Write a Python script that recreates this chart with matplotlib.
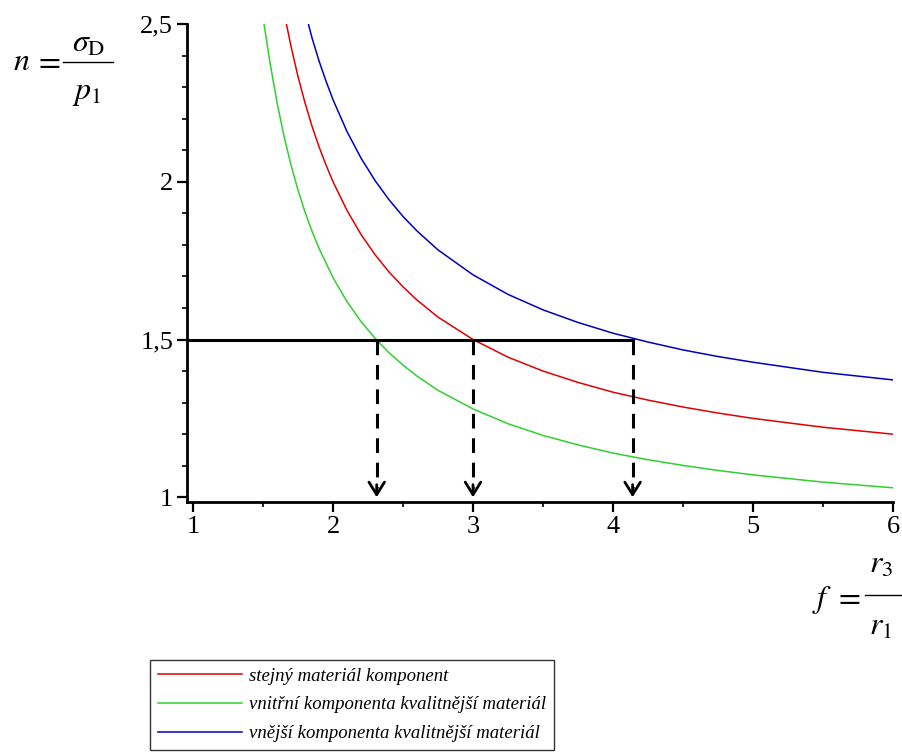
import matplotlib
matplotlib.use('Agg')
import matplotlib.pyplot as plt
from matplotlib.lines import Line2D
from matplotlib.ticker import MultipleLocator
from matplotlib.font_manager import FontProperties

# values
green_f = [1.507, 1.55, 1.60, 1.65, 1.70, 1.75, 1.80, 1.85, 1.90, 2.0, 2.1, 2.2,
           2.3, 2.4, 2.5, 2.6, 2.75, 3.0, 3.25, 3.5, 3.75, 4.0, 4.25, 4.5,
           4.75, 5.0, 5.5, 6.0]
green_n = [2.50, 2.377, 2.251, 2.144, 2.053, 1.973, 1.904, 1.843, 1.789, 1.696,
           1.620, 1.557, 1.504, 1.458, 1.419, 1.384, 1.339, 1.280, 1.233, 1.196,
           1.166, 1.140, 1.119, 1.101, 1.085, 1.071, 1.048, 1.030]

red_f = [1.667, 1.70, 1.75, 1.80, 1.85, 1.90, 1.95, 2.0, 2.1, 2.2, 2.3, 2.4,
         2.5, 2.6, 2.75, 3.0, 3.25, 3.5, 3.75, 4.0, 4.25, 4.5, 4.75, 5.0,
         5.5, 6.0]
red_n = [2.50, 2.429, 2.333, 2.25, 2.176, 2.111, 2.053, 2.0, 1.909, 1.833,
         1.769, 1.714, 1.667, 1.625, 1.571, 1.50, 1.444, 1.40, 1.364, 1.333,
         1.308, 1.286, 1.267, 1.25, 1.222, 1.20]

blue_f = [1.824, 1.85, 1.90, 1.95, 2.0, 2.1, 2.2, 2.3, 2.4, 2.5, 2.6, 2.75,
          3.0, 3.25, 3.5, 3.75, 4.0, 4.25, 4.5, 4.75, 5.0, 5.5, 6.0]
blue_n = [2.50, 2.456, 2.383, 2.319, 2.26, 2.159, 2.075, 2.004, 1.943, 1.890,
          1.844, 1.784, 1.705, 1.643, 1.594, 1.554, 1.520, 1.492, 1.467, 1.446,
          1.428, 1.396, 1.372]

level_n = 1.5
crossing_f = [2.312, 3.0, 4.14]

x_ticks = [1, 2, 3, 4, 5, 6]
y_ticks = [1, 1.5, 2, 2.5]
y_tick_labels = ['1', '1,5', '2', '2,5']

labels = ['stejný materiál komponent',
          'vnitřní komponenta kvalitnější materiál',
          'vnější komponenta kvalitnější materiál']

plt.rcParams['mathtext.fontset'] = 'stix'

W, H = 903, 756


def px(x, y):
    return x / W, 1 - y / H


fig = plt.figure(figsize=(9.03, 7.56), dpi=100)
ax = fig.add_axes([187 / W, 254 / H, 706 / W, 478 / H])

l_red, = ax.plot(red_f, red_n, color='#e00000', lw=1.1)
l_green, = ax.plot(green_f, green_n, color='#2fd02f', lw=1.1)
l_blue, = ax.plot(blue_f, blue_n, color='#0000c0', lw=1.1)

# reading lines at n = 1,5
ax.plot([0.957, crossing_f[-1]], [level_n, level_n], color='black', lw=2.2)
for xf in crossing_f:
    ax.plot([xf, xf], [level_n, 1.03], color='black', lw=2.2,
            linestyle=(0, (4.8, 3.2)))
    ax.annotate('', xy=(xf, 1.0), xytext=(xf, 1.04),
                arrowprops=dict(arrowstyle='->,head_length=0.45,head_width=0.28',
                                lw=2.0, color='black', shrinkA=0, shrinkB=0,
                                mutation_scale=20))

ax.set_xlim(0.957, 6.0)
ax.set_ylim(0.985, 2.5)

for side in ['top', 'right']:
    ax.spines[side].set_visible(False)
for side in ['left', 'bottom']:
    ax.spines[side].set_linewidth(2.0)

ax.set_xticks(x_ticks)
ax.set_yticks(y_ticks)
ax.set_yticklabels(y_tick_labels)
ax.xaxis.set_minor_locator(MultipleLocator(0.5))
ax.yaxis.set_minor_locator(MultipleLocator(0.1))
ax.tick_params(which='major', direction='out', length=7, width=1.6,
               labelsize=19, pad=3)
ax.tick_params(which='minor', direction='out', length=3.5, width=1.2)
for t in ax.get_xticklabels() + ax.get_yticklabels():
    t.set_fontfamily('Liberation Serif')

# axis titles, Maple style fractions
fs = 23
fig.text(*px(13, 62), r'$n$', fontsize=fs, ha='left', va='center')
fig.text(*px(34, 62), r'$=$', fontsize=fs, ha='left', va='center')
fig.text(*px(72, 43), r'$\sigma_{\mathrm{D}}$', fontsize=fs, ha='left', va='center')
fig.text(*px(72, 93), r'$p_1$', fontsize=fs, ha='left', va='center')
fig.add_artist(Line2D([63 / W, 113 / W], [1 - 62 / H] * 2, color='black', lw=1.0))

fig.text(*px(812, 600), r'$f$', fontsize=fs, ha='left', va='center')
fig.text(*px(834, 597), r'$=$', fontsize=fs, ha='left', va='center')
fig.text(*px(869, 564), r'$r_3$', fontsize=fs, ha='left', va='center')
fig.text(*px(869, 626), r'$r_1$', fontsize=fs, ha='left', va='center')
fig.add_artist(Line2D([865 / W, 902 / W], [1 - 595 / H] * 2, color='black', lw=1.0))

leg = fig.legend([l_red, l_green, l_blue], labels, loc='upper left',
                 bbox_to_anchor=px(150, 660), borderaxespad=0,
                 frameon=True, fancybox=False, edgecolor='black',
                 handlelength=4.5, handletextpad=0.4, labelspacing=0.62,
                 borderpad=0.4,
                 prop=FontProperties(family='Liberation Serif', style='italic', size=13.5))
leg.get_frame().set_linewidth(1.0)

plt.savefig('out.png', dpi=100)
